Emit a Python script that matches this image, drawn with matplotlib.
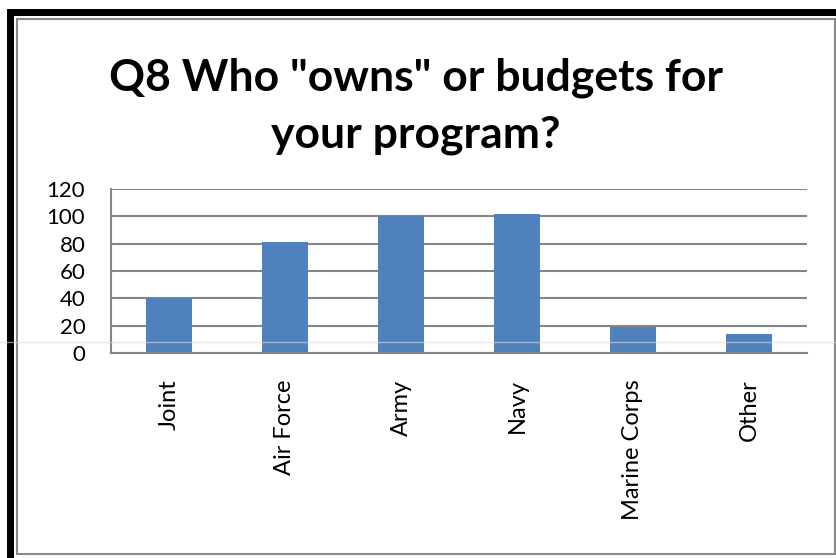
import matplotlib
matplotlib.use("Agg")
import matplotlib.pyplot as plt
from matplotlib.patches import Rectangle
from matplotlib.lines import Line2D

categories = ["Joint", "Air Force", "Army", "Navy", "Marine Corps", "Other"]
values = [40, 81, 100, 102, 19, 14]
yticks = [0, 20, 40, 60, 80, 100, 120]
title_text = 'Q8 Who "owns" or budgets for\nyour program?'

W, H = 837, 558
plt.rcParams['font.family'] = ['Lato', 'DejaVu Sans']

fig = plt.figure(figsize=(W / 100, H / 100), dpi=100)
fig.patch.set_facecolor('white')

def fx(px):
    return px / W

def fy(py):
    return 1 - py / H

# outer frame: black bands top/left, gray inner border
fig.add_artist(Rectangle((fx(7), 0), fx(7), fy(9), transform=fig.transFigure,
                         facecolor='black', edgecolor='none', zorder=0))
fig.add_artist(Rectangle((fx(7), fy(16)), 1 - fx(7), fy(9) - fy(16), transform=fig.transFigure,
                         facecolor='black', edgecolor='none', zorder=0))
fig.add_artist(Rectangle((fx(17), fy(554)), fx(835) - fx(17), fy(19) - fy(554),
                         transform=fig.transFigure, facecolor='white',
                         edgecolor='#888888', linewidth=1.5, zorder=1))

ax = fig.add_axes([fx(111), fy(353), fx(807) - fx(111), fy(189) - fy(353)])
ax.set_zorder(2)
ax.patch.set_alpha(0)

x = list(range(len(categories)))
ax.bar(x, values, width=0.39, color='#4F81BD', zorder=3)
ax.set_xlim(-0.5, len(categories) - 0.5)
ax.set_ylim(0, 120)
ax.set_yticks(yticks)
ax.set_yticklabels([str(v) for v in yticks])
ax.set_xticks(x)
ax.set_xticklabels(categories, rotation=90, va='top', ha='center')
ax.tick_params(axis='both', length=0)
ax.tick_params(axis='y', pad=18.5, labelsize=16)
ax.tick_params(axis='x', pad=19, labelsize=17)
ax.yaxis.grid(True, color='#868686', linewidth=1.5, zorder=1)
ax.set_axisbelow(True)
for s in ['top', 'right']:
    ax.spines[s].set_visible(False)
for s in ['left', 'bottom']:
    ax.spines[s].set_color('#868686')
    ax.spines[s].set_linewidth(1.5)
    ax.spines[s].set_zorder(4)

# faint horizontal artifact line
fig.add_artist(Line2D([0, 1], [fy(342), fy(342)], transform=fig.transFigure,
                      color=(0.85, 0.85, 0.85), alpha=0.6, linewidth=1, zorder=10))

t = fig.text(fx(416), fy(106), title_text, ha='center', va='center',
             fontsize=32, fontweight='bold', linespacing=1.5, zorder=5)

fig.savefig('out.png', dpi=100)
